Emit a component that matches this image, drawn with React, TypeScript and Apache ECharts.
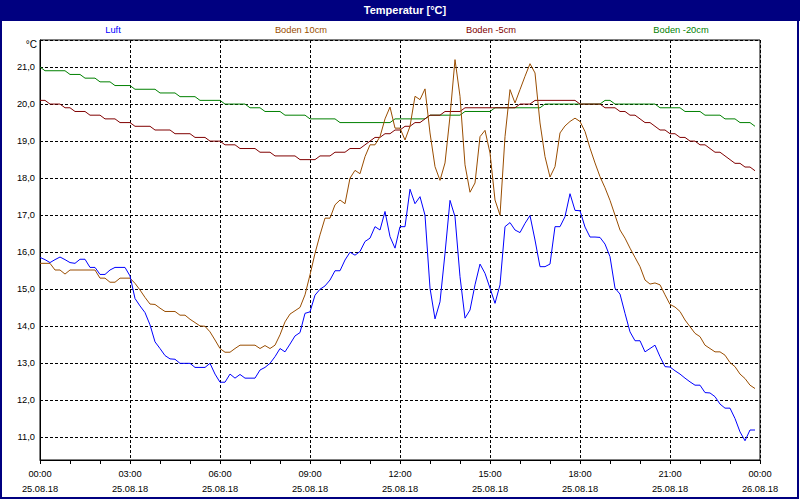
import React, { useEffect, useRef } from "react";
import * as echarts from "echarts";

const FONT = '"Liberation Sans", Arial, sans-serif';

const seriesNames = ["Luft", "Boden 10cm", "Boden -5cm", "Boden -20cm"];
const seriesColors = ["#0000ff", "#994d00", "#800000", "#008000"];
const legendCenters = [113, 301, 491, 681];

// one reading every 10 minutes, 00:00 .. 23:50 on 25.08.18
const STEP_MINUTES = 10;

const luft = [
  15.86, 15.8, 15.72, 15.8, 15.87, 15.8, 15.72, 15.7, 15.81, 15.81,
  15.59, 15.59, 15.4, 15.4, 15.52, 15.59, 15.59, 15.59, 15.36, 14.75,
  14.55, 14.37, 14.04, 13.58, 13.4, 13.21, 13.12, 13.11, 13.0, 13.0,
  13.0, 12.89, 12.89, 12.89, 13.0, 12.71, 12.49, 12.49, 12.71, 12.6,
  12.7, 12.6, 12.6, 12.6, 12.82, 12.89, 13.0, 13.18, 13.4, 13.31,
  13.52, 13.74, 13.83, 14.35, 14.39, 14.84, 15.0, 15.09, 15.25, 15.5,
  15.5, 15.79, 16.0, 15.92, 16.02, 16.29, 16.38, 16.69, 16.6, 17.1,
  16.42, 16.11, 16.69, 16.69, 17.7, 17.31, 17.5, 17.0, 15.03, 14.2,
  14.66, 15.97, 17.4, 16.96, 15.34, 14.22, 14.44, 15.12, 15.68, 15.43,
  15.03, 14.62, 15.12, 16.69, 16.8, 16.6, 16.53, 16.78, 16.99, 16.33,
  15.61, 15.61, 15.68, 16.69, 16.69, 16.96, 17.58, 17.13, 17.12, 16.68,
  16.41, 16.41, 16.4, 16.22, 15.88, 15.03, 14.87, 14.35, 13.85, 13.61,
  13.61, 13.31, 13.4, 13.49, 13.18, 12.91, 12.9, 12.8, 12.71, 12.6,
  12.5, 12.41, 12.41, 12.21, 12.2, 12.1, 11.9, 11.79, 11.79, 11.51,
  11.15, 10.91, 11.2, 11.2,
];

const boden10 = [
  15.7, 15.7, 15.7, 15.52, 15.52, 15.41, 15.52, 15.52, 15.52, 15.52,
  15.52, 15.52, 15.3, 15.3, 15.19, 15.19, 15.3, 15.3, 15.3, 15.16,
  14.98, 14.78, 14.6, 14.59, 14.49, 14.4, 14.4, 14.4, 14.3, 14.3,
  14.19, 14.1, 14.01, 14.0, 13.85, 13.63, 13.4, 13.3, 13.3, 13.4,
  13.49, 13.49, 13.49, 13.49, 13.4, 13.48, 13.4, 13.49, 13.77, 14.12,
  14.33, 14.42, 14.51, 14.85, 15.39, 15.97, 16.47, 16.92, 16.92, 17.28,
  17.41, 17.31, 18.0, 18.21, 18.12, 18.58, 18.9, 18.9, 19.12, 19.6,
  19.92, 19.35, 19.35, 19.03, 19.4, 20.21, 20.12, 20.41, 19.22, 18.31,
  17.94, 18.41, 19.67, 21.2, 20.21, 18.36, 17.62, 17.87, 19.12, 19.29,
  18.68, 17.41, 17.0, 19.12, 20.39, 20.03, 20.39, 20.75, 21.09, 20.84,
  19.49, 18.58, 18.03, 18.31, 19.22, 19.41, 19.53, 19.62, 19.53, 19.26,
  18.81, 18.41, 18.04, 17.74, 17.4, 17.0, 16.6, 16.38, 16.11, 15.86,
  15.61, 15.25, 15.14, 15.17, 15.12, 14.85, 14.59, 14.52, 14.4, 14.17,
  13.99, 13.81, 13.72, 13.49, 13.4, 13.31, 13.31, 13.22, 13.02, 12.91,
  12.71, 12.59, 12.41, 12.32,
];

const boden5 = [
  20.1, 20.1, 20.0, 20.0, 20.0, 19.9, 19.9, 19.8, 19.8, 19.8,
  19.7, 19.7, 19.7, 19.6, 19.6, 19.6, 19.5, 19.5, 19.5, 19.4,
  19.4, 19.4, 19.4, 19.3, 19.3, 19.3, 19.3, 19.2, 19.2, 19.2,
  19.2, 19.1, 19.1, 19.1, 19.0, 19.0, 19.0, 18.9, 18.9, 18.9,
  18.8, 18.8, 18.8, 18.8, 18.7, 18.7, 18.7, 18.6, 18.6, 18.6,
  18.6, 18.6, 18.5, 18.5, 18.5, 18.5, 18.6, 18.6, 18.6, 18.7,
  18.7, 18.7, 18.8, 18.8, 18.8, 18.9, 19.0, 19.1, 19.1, 19.2,
  19.2, 19.3, 19.3, 19.4, 19.4, 19.5, 19.5, 19.6, 19.7, 19.7,
  19.7, 19.8, 19.8, 19.8, 19.8, 19.9, 19.9, 19.9, 19.9, 19.9,
  19.9, 19.9, 19.9, 19.9, 19.9, 19.9, 20.0, 20.0, 20.0, 20.1,
  20.1, 20.1, 20.1, 20.1, 20.1, 20.1, 20.1, 20.1, 20.0, 20.0,
  20.0, 20.0, 20.0, 19.9, 19.9, 19.9, 19.8, 19.8, 19.7, 19.7,
  19.6, 19.5, 19.5, 19.4, 19.3, 19.3, 19.2, 19.2, 19.1, 19.1,
  19.0, 19.0, 18.9, 18.9, 18.8, 18.7, 18.7, 18.6, 18.5, 18.4,
  18.4, 18.3, 18.3, 18.2,
];

const boden20 = [
  21.0, 20.9, 20.9, 20.9, 20.9, 20.9, 20.8, 20.8, 20.8, 20.7,
  20.7, 20.7, 20.6, 20.6, 20.6, 20.5, 20.5, 20.5, 20.5, 20.4,
  20.4, 20.4, 20.4, 20.4, 20.3, 20.3, 20.3, 20.3, 20.2, 20.2,
  20.2, 20.2, 20.1, 20.1, 20.1, 20.1, 20.1, 20.0, 20.0, 20.0,
  20.0, 20.0, 19.9, 19.9, 19.9, 19.8, 19.8, 19.8, 19.8, 19.7,
  19.7, 19.7, 19.7, 19.7, 19.6, 19.6, 19.6, 19.6, 19.6, 19.6,
  19.5, 19.5, 19.5, 19.5, 19.5, 19.5, 19.5, 19.5, 19.5, 19.5,
  19.5, 19.6, 19.6, 19.6, 19.6, 19.6, 19.6, 19.6, 19.7, 19.7,
  19.7, 19.7, 19.7, 19.7, 19.7, 19.8, 19.8, 19.8, 19.8, 19.8,
  19.8, 19.9, 19.9, 19.9, 19.9, 19.9, 19.9, 19.9, 19.9, 19.9,
  19.9, 20.0, 20.0, 20.0, 20.0, 20.0, 20.0, 20.0, 20.0, 20.0,
  20.0, 20.0, 20.0, 20.1, 20.1, 20.0, 20.0, 20.0, 20.0, 20.0,
  20.0, 20.0, 20.0, 20.0, 19.9, 19.9, 19.9, 19.9, 19.9, 19.8,
  19.8, 19.8, 19.8, 19.7, 19.7, 19.7, 19.7, 19.6, 19.6, 19.6,
  19.5, 19.5, 19.5, 19.4,
];

const seriesValues = [luft, boden10, boden5, boden20];

const xLabelFormatter = (v: number) => {
  const h = Math.round(v) % 24;
  const hh = (h < 10 ? "0" : "") + h + ":00";
  const d = v >= 24 ? "26.08.18" : "25.08.18";
  return hh + "\n" + d;
};

export default function App() {
  const ref = useRef<HTMLDivElement>(null);
  useEffect(() => {
    if (!ref.current) return;
    const chart = echarts.init(ref.current, undefined, { renderer: "svg" });
    const toPairs = (arr: number[]) =>
      arr.map((v, i) => [(i * STEP_MINUTES) / 60, v]);

    const graphic: any[] = [
      {
        type: "rect",
        shape: { x: 0, y: 0, width: 800, height: 21 },
        style: { fill: "#000080" },
        z: 10,
      },
      {
        type: "text",
        x: 405,
        y: 10,
        style: {
          text: "Temperatur [°C]",
          fill: "#ffffff",
          font: `bold 11px ${FONT}`,
          textAlign: "center",
          textVerticalAlign: "middle",
        },
        z: 11,
      },
      {
        type: "rect",
        shape: { x: 1, y: 1, width: 797, height: 497 },
        style: { fill: "none", stroke: "#000080", lineWidth: 2 },
        z: 10,
      },
      {
        type: "text",
        x: 37,
        y: 44,
        style: {
          text: "°C",
          fill: "#000000",
          font: `10px ${FONT}`,
          textAlign: "right",
          textVerticalAlign: "middle",
        },
        z: 11,
      },
      ...seriesNames.map((n, i) => ({
        type: "text",
        x: legendCenters[i],
        y: 30,
        style: {
          text: n,
          fill: seriesColors[i],
          font: `9.3px ${FONT}`,
          textAlign: "center",
          textVerticalAlign: "middle",
        },
        z: 11,
      })),
    ];

    chart.setOption({
      animation: false,
      backgroundColor: "#ffffff",
      grid: {
        left: 40,
        right: 40,
        top: 40,
        bottom: 40,
        show: true,
        borderColor: "#000",
        borderWidth: 1,
        backgroundColor: "#ffffff",
      },
      xAxis: {
        type: "value",
        min: 0,
        max: 24,
        interval: 3,
        axisLine: { show: true, lineStyle: { color: "#000", width: 1 } },
        axisTick: { show: true, length: 4, lineStyle: { color: "#000" } },
        minorTick: { show: true, splitNumber: 3, length: 4, lineStyle: { color: "#000" } },
        splitLine: { show: true, lineStyle: { color: "#000", type: [3, 2], width: 1 } },
        axisLabel: {
          formatter: xLabelFormatter,
          fontSize: 9.3,
          fontFamily: FONT,
          color: "#000",
          lineHeight: 15,
          margin: 6,
        },
      },
      yAxis: {
        type: "value",
        min: 10.39,
        max: 21.73,
        splitNumber: 11,
        axisLine: { show: true, lineStyle: { color: "#000", width: 1 } },
        axisTick: { show: false },
        splitLine: { show: true, lineStyle: { color: "#000", type: [3, 2], width: 1 } },
        axisLabel: {
          formatter: (v: number) => v.toFixed(1).replace(".", ","),
          showMinLabel: false,
          showMaxLabel: false,
          fontSize: 9.3,
          fontFamily: FONT,
          color: "#000",
          margin: 5,
        },
      },
      series: seriesNames.map((n, i) => ({
        name: n,
        type: "line",
        data: toPairs(seriesValues[i]),
        symbol: "none",
        showSymbol: false,
        lineStyle: { color: seriesColors[i], width: 1 },
        itemStyle: { color: seriesColors[i] },
        z: 2 + (3 - i),
      })),
      graphic,
    });
    return () => chart.dispose();
  }, []);
  return (
    <div
      ref={ref}
      style={{ position: "absolute", left: 0, top: 0, width: 800, height: 500 }}
    />
  );
}
